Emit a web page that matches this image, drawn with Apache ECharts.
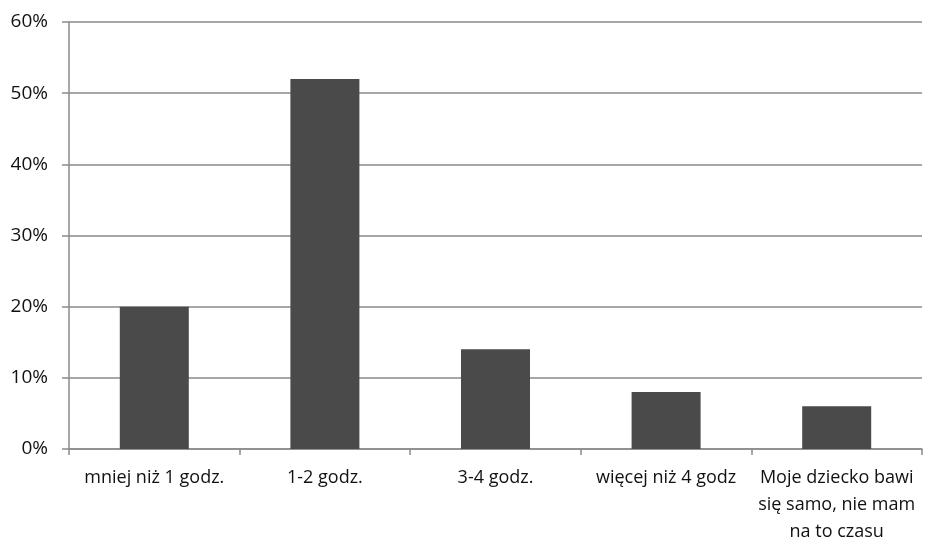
<!DOCTYPE html>
<html>
<head>
<meta charset="utf-8">
<script src="https://cdn.jsdelivr.net/npm/echarts@6/dist/echarts.min.js"></script>
<style>
  html, body { margin: 0; padding: 0; background: #fff; overflow: hidden; }
  #chart { width: 934px; height: 541px; }
</style>
</head>
<body>
<div id="chart"></div>
<script>
// Czas spędzany na zabawie z dzieckiem
const categories = [
  'mniej niż 1 godz.',
  '1-2 godz.',
  '3-4 godz.',
  'więcej niż 4 godz',
  'Moje dziecko bawi\nsię samo, nie mam\nna to czasu'
];
const shares = [20, 52, 14, 8, 6];
const yTicks = { min: 0, max: 60, interval: 10 };

const font = '"Open Sans", Lato, sans-serif';
const chart = echarts.init(document.getElementById('chart'), null, { renderer: 'canvas' });
chart.setOption({
  animation: false,
  backgroundColor: '#ffffff',
  grid: {
    left: 69, right: 12, top: 22, bottom: 92,
    containLabel: false,
    outerBoundsMode: 'none'
  },
  xAxis: {
    type: 'category',
    data: categories,
    axisLine: { lineStyle: { color: '#8a8a8a', width: 1.5 } },
    axisTick: { show: true, length: 6, lineStyle: { color: '#8a8a8a', width: 1.5 } },
    axisLabel: {
      color: '#111',
      fontFamily: font,
      fontSize: 18,
      lineHeight: 27,
      margin: 15,
      interval: 0
    }
  },
  yAxis: {
    type: 'value',
    min: yTicks.min,
    max: yTicks.max,
    interval: yTicks.interval,
    axisLine: { show: true, lineStyle: { color: '#8a8a8a', width: 1.5 } },
    axisTick: { show: true, length: 7, lineStyle: { color: '#8a8a8a', width: 1.5 } },
    splitLine: { lineStyle: { color: '#8a8a8a', width: 1.5 } },
    axisLabel: {
      color: '#111',
      fontFamily: font,
      fontSize: 19,
      margin: 21,
      formatter: v => v + '%'
    }
  },
  series: [{
    type: 'bar',
    data: shares,
    barWidth: 69,
    itemStyle: { color: '#4a4a4a' }
  }]
});
</script>
</body>
</html>
